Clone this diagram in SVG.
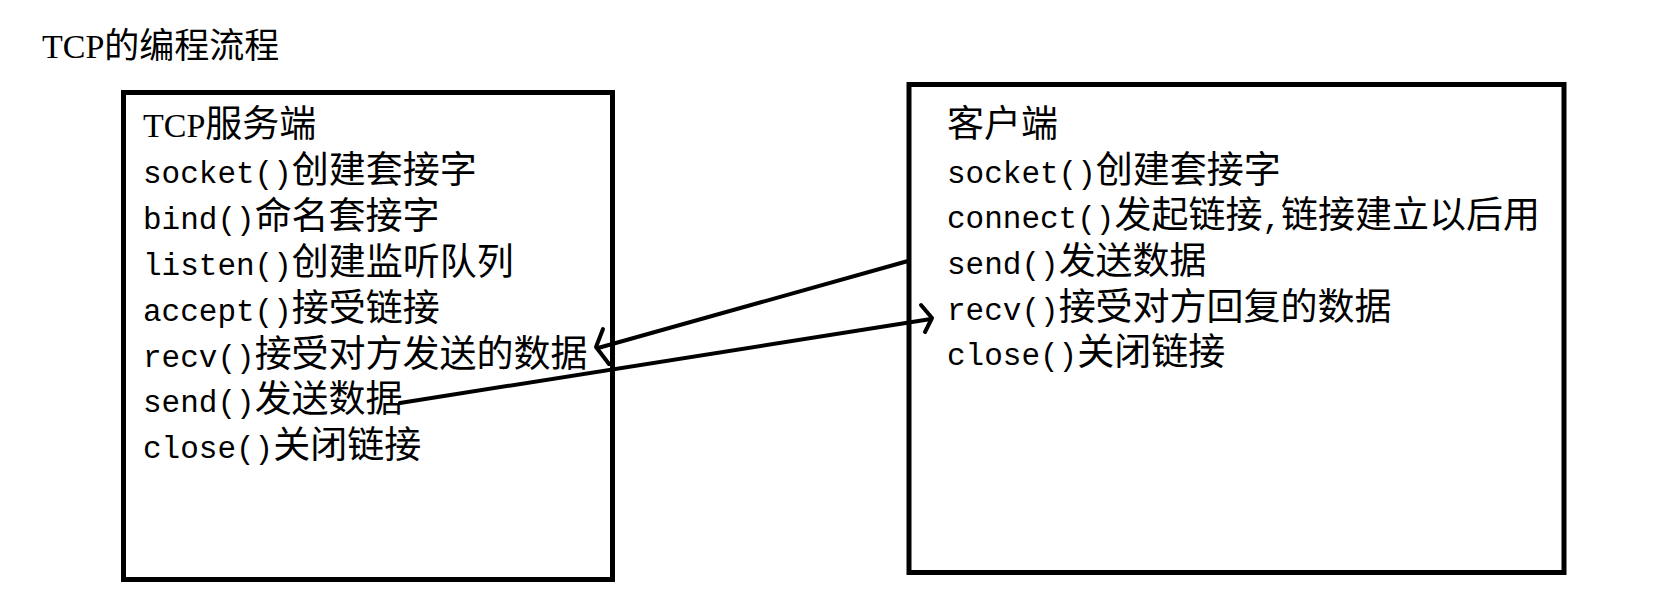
<svg xmlns="http://www.w3.org/2000/svg" width="1662" height="612" viewBox="0 0 1662 612">
<style>
.box{fill:none;stroke:#000;stroke-width:5}
.t{font-family:"Noto Sans CJK SC","Noto Sans CJK JP",sans-serif;font-size:37px;fill:#000}
.m{font-family:"Liberation Mono",monospace;font-size:31px}
.s{font-family:"Liberation Serif",serif;font-size:34px}
.ln{fill:none;stroke:#000;stroke-width:4;stroke-linecap:round;stroke-linejoin:round}
</style>
<rect width="1662" height="612" fill="#fff"/>
<text id="title" class="t" x="42" y="58" style="font-size:35px"><tspan class="s">TCP</tspan>的编程流程</text>
<g id="server">
<rect class="box" x="123.5" y="92.5" width="489" height="487"/>
<text class="t" x="143" y="137"><tspan class="s">TCP</tspan>服务端</text>
<text class="t" x="143" y="183"><tspan class="m">socket()</tspan>创建套接字</text>
<text class="t" x="143" y="229"><tspan class="m">bind()</tspan>命名套接字</text>
<text class="t" x="143" y="275"><tspan class="m">listen()</tspan>创建监听队列</text>
<text class="t" x="143" y="321"><tspan class="m">accept()</tspan>接受链接</text>
<text class="t" x="143" y="367"><tspan class="m">recv()</tspan>接受对方发送的数据</text>
<text class="t" x="143" y="412"><tspan class="m">send()</tspan>发送数据</text>
<text class="t" x="143" y="458"><tspan class="m">close()</tspan>关闭链接</text>
</g>
<g id="client">
<rect class="box" x="909" y="84.5" width="655" height="488"/>
<text class="t" x="947" y="137">客户端</text>
<text class="t" x="947" y="183"><tspan class="m">socket()</tspan>创建套接字</text>
<text class="t" x="947" y="228"><tspan class="m">connect()</tspan>发起链接<tspan class="m">,</tspan>链接建立以后用</text>
<text class="t" x="947" y="274"><tspan class="m">send()</tspan>发送数据</text>
<text class="t" x="947" y="320"><tspan class="m">recv()</tspan>接受对方回复的数据</text>
<text class="t" x="947" y="365"><tspan class="m">close()</tspan>关闭链接</text>
</g>
<g id="connectors">
<path class="ln" d="M908,261 L598,348"/>
<path class="ln" d="M603,329 L596,347 L609,364"/>
<path class="ln" d="M400,403 L931,319"/>
<path class="ln" d="M921,305 L932,318 L925,332"/>
</g>
</svg>
